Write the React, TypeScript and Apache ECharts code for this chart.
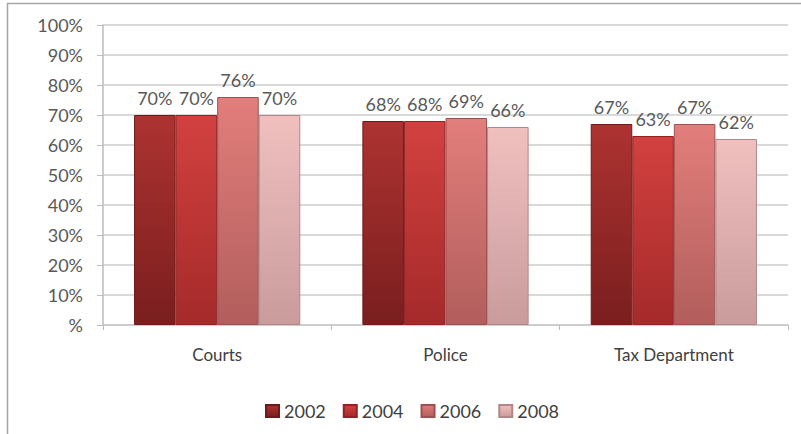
import React, { useEffect, useRef } from "react";
import * as echarts from "echarts";

const categories = ["Courts", "Police", "Tax Department"];
const years = ["2002", "2004", "2006", "2008"];
const values2002 = [70, 68, 67];
const values2004 = [70, 68, 63];
const values2006 = [76, 69, 67];
const values2008 = [70, 66, 62];
const yTicks = [0, 10, 20, 30, 40, 50, 60, 70, 80, 90, 100];

const palette = [
  { top: "#ad3331", bottom: "#7a1e1e", border: "#6e1a1a" },
  { top: "#d2413f", bottom: "#a52a2a", border: "#8e2424" },
  { top: "#e27e7b", bottom: "#b25e5c", border: "#9c5050" },
  { top: "#f0c0bf", bottom: "#c99c9b", border: "#b08888" },
];

export default function App() {
  const ref = useRef<HTMLDivElement>(null);
  useEffect(() => {
    if (!ref.current) return;
    const chart = echarts.init(ref.current, null, { renderer: "svg" });
    const all = [values2002, values2004, values2006, values2008];
    chart.setOption({
      animation: false,
      backgroundColor: "#ffffff",
      textStyle: { fontFamily: "Lato, 'Open Sans', sans-serif" },
      graphic: [
        {
          type: "rect",
          shape: { x: 7.5, y: 3.5, width: 900, height: 500 },
          style: { fill: "none", stroke: "#a6a6a6", lineWidth: 1.5 },
          silent: true,
          z: -10,
        },
      ],
      grid: { left: 103, right: 13, top: 25, bottom: 109 },
      xAxis: {
        type: "category",
        data: categories,
        axisLine: { show: true, lineStyle: { color: "#c8c8c8", width: 1.5 } },
        axisTick: { show: true, alignWithLabel: false, length: 5, lineStyle: { color: "#bdbdbd" } },
        axisLabel: { color: "#404040", fontSize: 17, margin: 21, fontFamily: "Lato, sans-serif" },
      },
      yAxis: {
        type: "value",
        min: 0,
        max: 100,
        interval: 10,
        axisLine: { show: true, lineStyle: { color: "#bdbdbd", width: 1.5 } },
        axisTick: { show: true, length: 6, lineStyle: { color: "#bdbdbd" } },
        splitLine: { show: true, lineStyle: { color: "#cccccc", width: 1.5 } },
        axisLabel: {
          color: "#595959",
          fontSize: 18,
          margin: 20,
          fontFamily: "Lato, sans-serif",
          formatter: (v: number) => (yTicks.includes(v) ? (v === 0 ? "%" : v + "%") : ""),
        },
      },
      legend: {
        data: years,
        top: 397,
        left: 260,
        itemWidth: 13,
        itemHeight: 12,
        itemGap: 17,
        icon: "rect",
        textStyle: { color: "#404040", fontSize: 18, fontFamily: "Lato, sans-serif" },
      },
      series: years.map((y, i) => ({
        name: y,
        type: "bar",
        data: all[i],
        barWidth: "18.2%",
        barGap: "0%",
        barCategoryGap: "27%",
        itemStyle: {
          color: new echarts.graphic.LinearGradient(0, 0, 0, 1, [
            { offset: 0, color: palette[i].top },
            { offset: 1, color: palette[i].bottom },
          ]),
          borderColor: palette[i].border,
          borderWidth: 1,
        },
        label: {
          show: true,
          position: "top",
          distance: 8,
          color: "#595959",
          fontSize: 18,
          fontFamily: "Lato, sans-serif",
          formatter: (p: any) => p.value + "%",
        },
      })),
    });
    return () => chart.dispose();
  }, []);
  return (
    <div
      ref={ref}
      style={{ position: "fixed", left: 0, top: 0, width: 801, height: 434 }}
    />
  );
}
